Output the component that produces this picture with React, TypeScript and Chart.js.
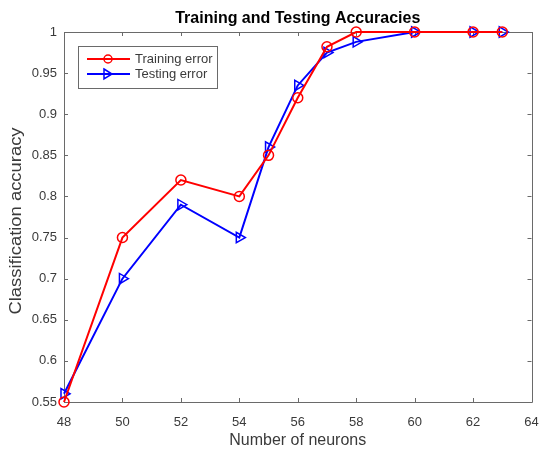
import React, { useEffect, useRef } from "react";
import { Chart, registerables } from "chart.js";

Chart.register(...registerables);

const neurons = [48, 50, 52, 54, 55, 56, 57, 58, 60, 62, 63];
const trainingAcc = [0.55, 0.75, 0.82, 0.8, 0.85, 0.92, 0.982, 1, 1, 1, 1];
const testingAcc = [0.56, 0.7, 0.79, 0.75, 0.86, 0.935, 0.975, 0.988, 1, 1, 1];
const xTicks = [48, 50, 52, 54, 56, 58, 60, 62, 64];
const yTicks = [0.55, 0.6, 0.65, 0.7, 0.75, 0.8, 0.85, 0.9, 0.95, 1];
const titleText = "Training and Testing Accuracies";
const xLabel = "Number of neurons";
const yLabel = "Classification accuracy";
const seriesNames = ["Training error", "Testing error"];

const FONT = '"Liberation Sans", Arial, Helvetica, sans-serif';
const AXIS = "#6a6a6a";
const TEXT = "#3a3a3a";

const framePlugin = {
  id: "matlabFrame",
  beforeDatasetsDraw(chart: any) {
    const { ctx, chartArea: a, scales } = chart;
    ctx.save();
    ctx.strokeStyle = AXIS;
    ctx.lineWidth = 1;
    ctx.beginPath();
    ctx.rect(Math.round(a.left) + 0.5, Math.round(a.top) + 0.5, Math.round(a.right - a.left), Math.round(a.bottom - a.top));
    ctx.stroke();
    const tl = 4;
    ctx.beginPath();
    for (const v of xTicks) {
      const px = Math.round(scales.x.getPixelForValue(v)) + 0.5;
      ctx.moveTo(px, a.bottom);
      ctx.lineTo(px, a.bottom - tl);
      ctx.moveTo(px, a.top);
      ctx.lineTo(px, a.top + tl);
    }
    for (const v of yTicks) {
      const py = Math.round(scales.y.getPixelForValue(v)) + 0.5;
      ctx.moveTo(a.left, py);
      ctx.lineTo(a.left + tl, py);
      ctx.moveTo(a.right, py);
      ctx.lineTo(a.right - tl, py);
    }
    ctx.stroke();
    ctx.restore();
  },
  afterDatasetsDraw(chart: any) {
    const { ctx, chartArea: a } = chart;
    ctx.save();
    // Title
    ctx.fillStyle = "#000";
    ctx.textAlign = "center";
    ctx.textBaseline = "middle";
    ctx.font = `bold 16px ${FONT}`;
    ctx.fillText(titleText, (a.left + a.right) / 2, 19);
    // X label
    ctx.fillStyle = TEXT;
    ctx.font = `16px ${FONT}`;
    ctx.fillText(xLabel, (a.left + a.right) / 2, 441);
    // Y label
    ctx.save();
    ctx.translate(17, 221);
    ctx.rotate(-Math.PI / 2);
    ctx.scale(1.15, 1);
    ctx.fillText(yLabel, 0, 0);
    ctx.restore();

    // Legend
    const lx = 78.5, ly = 46.5, lw = 139, lh = 42;
    ctx.fillStyle = "#fff";
    ctx.fillRect(lx, ly, lw, lh);
    ctx.strokeStyle = AXIS;
    ctx.lineWidth = 1;
    ctx.strokeRect(lx, ly, lw, lh);
    const colors = ["#ff0000", "#0000ff"];
    const rows = [59, 74];
    ctx.font = `13px ${FONT}`;
    ctx.textAlign = "left";
    for (let i = 0; i < 2; i++) {
      const y = rows[i];
      ctx.strokeStyle = colors[i];
      ctx.lineWidth = 2;
      ctx.beginPath();
      ctx.moveTo(87, y);
      ctx.lineTo(130, y);
      ctx.stroke();
      ctx.lineWidth = 1.5;
      ctx.beginPath();
      if (i === 0) {
        ctx.arc(108, y, 4, 0, Math.PI * 2);
      } else {
        ctx.moveTo(104, y - 5);
        ctx.lineTo(112, y);
        ctx.lineTo(104, y + 5);
        ctx.closePath();
      }
      ctx.stroke();
      ctx.fillStyle = TEXT;
      ctx.fillText(seriesNames[i], 135, y + 0.5);
    }
    ctx.restore();
  },
};

export default function App() {
  const ref = useRef<HTMLCanvasElement>(null);
  useEffect(() => {
    if (!ref.current) return;
    const chart = new Chart(ref.current, {
      type: "line",
      data: {
        datasets: [
          {
            label: seriesNames[0],
            data: neurons.map((x, i) => ({ x, y: trainingAcc[i] })),
            borderColor: "#ff0000",
            backgroundColor: "rgba(0,0,0,0)",
            borderWidth: 2,
            pointStyle: "circle",
            pointRadius: 5,
            pointBorderWidth: 1.5,
            pointBorderColor: "#ff0000",
            pointBackgroundColor: "rgba(0,0,0,0)",
            tension: 0,
            clip: false as any,
          },
          {
            label: seriesNames[1],
            data: neurons.map((x, i) => ({ x, y: testingAcc[i] })),
            borderColor: "#0000ff",
            backgroundColor: "rgba(0,0,0,0)",
            borderWidth: 2,
            pointStyle: "triangle",
            pointRotation: 90,
            pointRadius: 6,
            pointBorderWidth: 1.5,
            pointBorderColor: "#0000ff",
            pointBackgroundColor: "rgba(0,0,0,0)",
            tension: 0,
            clip: false as any,
          },
        ],
      },
      options: {
        animation: false,
        responsive: false,
        devicePixelRatio: 1,
        layout: { padding: { top: 32, right: 7, left: 0, bottom: 0 } },
        plugins: {
          legend: { display: false },
          title: { display: false },
          tooltip: { enabled: false },
        },
        scales: {
          x: {
            type: "linear",
            min: 48,
            max: 64,
            afterFit: (s: any) => {
              s.height = 48;
              s.paddingLeft = 0;
              s.paddingRight = 0;
            },
            afterBuildTicks: (s: any) => {
              s.ticks = xTicks.map((v) => ({ value: v }));
            },
            grid: { display: false, drawTicks: false },
            border: { display: false },
            ticks: {
              padding: 13,
              color: TEXT,
              font: { family: FONT, size: 13 },
              callback: (v: any) => String(v),
            },
          },
          y: {
            type: "linear",
            min: 0.55,
            max: 1,
            afterFit: (s: any) => {
              s.width = 64;
              s.paddingTop = 0;
              s.paddingBottom = 0;
            },
            afterBuildTicks: (s: any) => {
              s.ticks = yTicks.map((v) => ({ value: v }));
            },
            grid: { display: false, drawTicks: false },
            border: { display: false },
            ticks: {
              padding: 7,
              color: TEXT,
              font: { family: FONT, size: 13 },
              callback: (v: any) => String(+Number(v).toFixed(2)),
            },
          },
        },
      },
      plugins: [framePlugin],
    });
    return () => chart.destroy();
  }, []);
  return (
    <div style={{ position: "absolute", left: 0, top: 0, width: 539, height: 450, background: "#fff" }}>
      <canvas ref={ref} width={539} height={450} />
    </div>
  );
}
